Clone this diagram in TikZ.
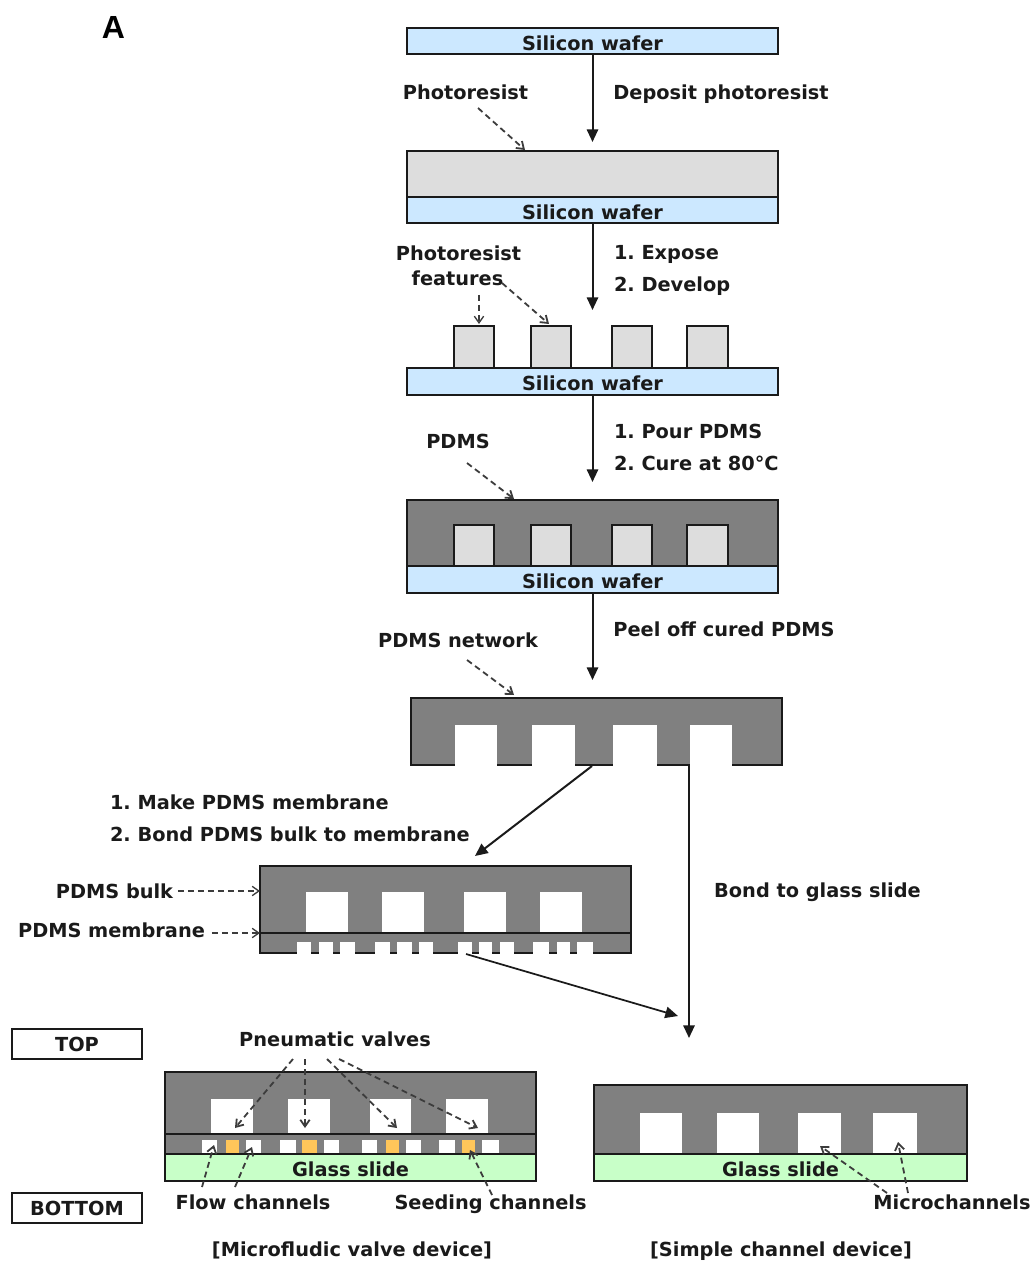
\documentclass[tikz,border=0pt]{standalone}
\usepackage{fontspec}
\setmainfont{DejaVu Sans}[BoldFont={DejaVu Sans Bold}]
\newfontfamily\arialb{Liberation Sans Bold}
\usetikzlibrary{arrows.meta}
\definecolor{waferc}{HTML}{CCE8FF}
\definecolor{resistc}{HTML}{DDDDDD}
\definecolor{pdmsc}{HTML}{808080}
\definecolor{glassc}{HTML}{C8FFC8}
\definecolor{seedc}{HTML}{FFC65A}
\definecolor{inkc}{HTML}{1A1A1A}
\frenchspacing
\tikzset{
  x=0.75pt,y=-0.75pt,
  lbl/.style={inner sep=0pt,outer sep=0pt,font=\fontsize{14.5pt}{18pt}\selectfont\bfseries\frenchspacing,text=inkc,text height=10.6pt,text depth=0pt},
  edge/.style={draw=inkc,line width=1.2pt},
  boxlbl/.style={lbl,text height=14pt,text depth=0pt},
  wafer/.style={edge,fill=waferc,boxlbl},
  glass/.style={edge,fill=glassc,boxlbl},
  resist/.style={edge,fill=resistc,boxlbl},
  pdms/.style={edge,fill=pdmsc,boxlbl},
  tagbox/.style={edge,fill=white,lbl,text height=11pt},
  flow/.style={draw=inkc,line width=1.5pt,-{Triangle[length=9.5pt,width=8.5pt]}},
  call/.style={draw=inkc!85,line width=1.35pt,dash pattern=on 4.5pt off 3pt,-{Straight Barb[length=5pt,width=7pt]}},
  chan/.style={fill=white},
  seed/.style={fill=seedc},
}
\newcommand{\boxnode}[7]{%
  \pgfmathsetlengthmacro\bw{(#5-#3)*0.75pt}%
  \pgfmathsetlengthmacro\bh{(#6-#4)*0.75pt}%
  \node[#1,minimum width=\bw,minimum height=\bh,anchor=north west] (#2) at (#3,#4) {#7};}
\begin{document}
\begin{tikzpicture}
\useasboundingbox (0,0) rectangle (1032,1262);
\fill[white] (0,0) rectangle (1032,1262);

\node[inner sep=0pt,text=black,font=\fontsize{24pt}{28pt}\arialb] (panelA) at (113.5,27) {A};

% stage 1
\boxnode{wafer}{w1}{407}{28}{778}{54}{Silicon wafer}
% stage 2
\boxnode{resist}{r2}{407}{151}{778}{197}{}
\boxnode{wafer}{w2}{407}{197}{778}{223}{Silicon wafer}
% stage 3
\foreach \a/\b in {454/494,531/571,612/652,687/728}
  \draw[edge,fill=resistc] (\a,326) rectangle (\b,368);
\boxnode{wafer}{w3}{407}{368}{778}{395}{Silicon wafer}
% stage 4
\boxnode{pdms}{p4}{407}{500}{778}{566}{}
\foreach \a/\b in {454/494,531/571,612/652,687/728}
  \draw[edge,fill=resistc] (\a,525) rectangle (\b,566);
\boxnode{wafer}{w4}{407}{566}{778}{593}{Silicon wafer}
% stage 5
\boxnode{pdms}{p5}{411}{698}{782}{765}{}
\foreach \a/\b in {455/497,532/575,613/657,690/732}
  \fill[chan] (\a,725) rectangle (\b,766.5);
% stage 6
\boxnode{pdms}{p6}{260}{866}{631}{953}{}
\foreach \a/\b in {306/348,382/424,464/506,540/582}
  \fill[chan] (\a,892) rectangle (\b,933);
\draw[edge] (p6.west |- 0,933) -- (p6.east |- 0,933);
\foreach \a/\b in {297/311,319/333,340/355,375/390,397/412,419/433,458/472,479/492,500/514,533/549,557/570,577/593}
  \fill[chan] (\a,942) rectangle (\b,954.5);
% valve device
\boxnode{pdms}{p7}{165}{1072}{536}{1154}{}
\foreach \a/\b in {211/253,288/330,370/411,446/488}
  \fill[chan] (\a,1099) rectangle (\b,1134);
\draw[edge] (p7.west |- 0,1134) -- (p7.east |- 0,1134);
\foreach \a/\b in {202/217,246/261,280/296,324/339,362/377,406/421,439/455,482/499}
  \fill[chan] (\a,1140) rectangle (\b,1154);
\foreach \a/\b in {226/239,302/317,386/399,462/475}
  \fill[seed] (\a,1140) rectangle (\b,1154);
\boxnode{glass}{g7}{165}{1154}{536}{1181}{Glass slide}
% simple device
\boxnode{pdms}{p8}{594}{1085}{967}{1154}{}
\foreach \a/\b in {640/682,717/759,798/841,873/917}
  \fill[chan] (\a,1113) rectangle (\b,1154);
\boxnode{glass}{g8}{594}{1154}{967}{1181}{Glass slide}
% tag boxes
\boxnode{tagbox}{top}{12}{1029}{142}{1059}{TOP}
\boxnode{tagbox}{bottom}{12}{1193}{142}{1223}{BOTTOM}

% labels
\node[lbl] (tPhoto) at (465.5,92) {Photoresist};
\node[lbl] (tDeposit) at (721,92) {Deposit photoresist};
\node[lbl] (tPf1) at (458.5,253) {Photoresist};
\node[lbl] (tPf2) at (457.5,278) {features};
\node[lbl,anchor=west] (tExpose) at (614,252) {1. Expose};
\node[lbl,anchor=west] (tDevelop) at (614,284) {2. Develop};
\node[lbl] (tPdms) at (458,441) {PDMS};
\node[lbl,anchor=west] (tPour) at (614,431) {1. Pour PDMS};
\node[lbl,anchor=west] (tCure) at (614,463) {2. Cure at 80°C};
\node[lbl] (tPeel) at (724,629) {Peel off cured PDMS};
\node[lbl] (tNet) at (458,640) {PDMS network};
\node[lbl,anchor=west] (tMake) at (110,802) {1. Make PDMS membrane};
\node[lbl,anchor=west] (tBond) at (110,834) {2. Bond PDMS bulk to membrane};
\node[lbl] (tGlass) at (817.5,890) {Bond to glass slide};
\node[lbl] (tBulk) at (114.5,891) {PDMS bulk};
\node[lbl] (tMem) at (111.5,930) {PDMS membrane};
\node[lbl] (tValves) at (335,1039) {Pneumatic valves};
\node[lbl] (tFlow) at (253,1202) {Flow channels};
\node[lbl] (tSeed) at (490.5,1202) {Seeding channels};
\node[lbl] (tMicro) at (952,1202) {Microchannels};
\node[lbl] (tValveDev) at (352,1249) {[Microfludic valve device]};
\node[lbl] (tSimple) at (781,1249) {[Simple channel device]};

% free ends
\coordinate (e3) at (592.5,310);
\coordinate (e5) at (592.5,680);
\coordinate (s6) at (592,766);
\coordinate (e6) at (475,856);
\coordinate (s8) at (689,766);
\coordinate (e8) at (689,1038);
\coordinate (s7) at (466,954);
\coordinate (e7) at (678,1016);

% process arrows
\draw[flow,shorten >=6.75pt] (w1.south) -- (r2.north);
\draw[flow] (w2.south) -- (e3);
\draw[flow] (w3.south) -- (w3.south |- 0,482);
\draw[flow] (w4.south) -- (e5);
\draw[flow] (s6) -- (e6);
\draw[flow] (s8) -- (e8);
\draw[flow,line width=1.3pt] (s7) -- (e7);

% callouts
\draw[call] (478,108) -- (525,150);
\draw[call,line width=1pt] (479,295) -- (479,324);
\draw[call] (502,283) -- (549,324);
\draw[call] (467,463) -- (514,499);
\draw[call] (467,660) -- (514,695);
\draw[call,line width=1pt,shorten <=3.5pt] (tBulk.east) -- (p6.west |- tBulk.east);
\draw[call,line width=1pt] (tMem.east) ++(7,3) -- (p6.west |- 0,933);
\draw[call] (293,1059) -- (235,1128);
\draw[call] (305,1059) -- (305,1128);
\draw[call] (327,1059) -- (397,1128);
\draw[call] (339,1059) -- (478,1128);
\draw[call] (202,1187) -- (214,1145);
\draw[call] (235,1187) -- (252,1147);
\draw[call] (492,1195) -- (470,1150);
\draw[call] (887,1193) -- (820,1146);
\draw[call] (908,1193) -- (898,1142);
\end{tikzpicture}
\end{document}
